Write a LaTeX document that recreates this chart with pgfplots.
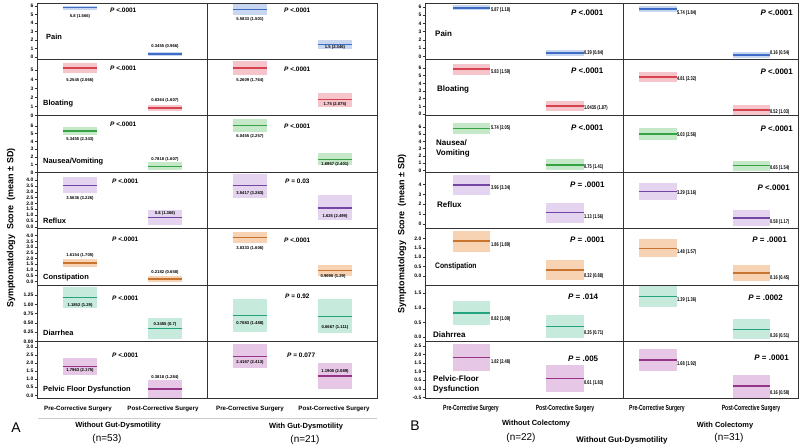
\documentclass[border=0pt]{standalone}
\usepackage{pgfplots}
\pgfplotsset{compat=1.18}
\usepackage{graphicx}
\usepackage{fontspec}
\setmainfont{Liberation Sans}

\definecolor{cPainL}{HTML}{3F6CC4}\definecolor{cPainB}{HTML}{C9D6F0}
\definecolor{cBloatL}{HTML}{D6434F}\definecolor{cBloatB}{HTML}{F6C5CC}
\definecolor{cNauL}{HTML}{34A344}\definecolor{cNauB}{HTML}{C4E8C8}
\definecolor{cRefL}{HTML}{7346A3}\definecolor{cRefB}{HTML}{E4D4EF}
\definecolor{cConL}{HTML}{C77431}\definecolor{cConB}{HTML}{F7D3B4}
\definecolor{cDiaL}{HTML}{25A37E}\definecolor{cDiaB}{HTML}{C6EBDD}
\definecolor{cPelL}{HTML}{963488}\definecolor{cPelB}{HTML}{E6C7E5}

\newcommand{\cell}[6]{%
  \addplot[draw=none, fill=#6B] coordinates {(#1,#3) (#2,#3) (#2,#5) (#1,#5)};
  \addplot[draw=#6L, line width=1.4bp] coordinates {(#1,#4) (#2,#4)};
}
\newcommand{\T}[4]{\node[inner sep=0pt,#1] at ({#2bp},{448bp-#3bp}) {#4};}
\newcommand{\tk}{\fontsize{5}{5}\selectfont\bfseries}
\newcommand{\va}{\fontsize{4.2}{4.2}\selectfont\bfseries}
\newcommand{\vb}[1]{\scalebox{0.72}[1]{\fontsize{5.5}{5.5}\selectfont\bfseries #1}}
\newcommand{\labA}{\fontsize{7.5}{8}\selectfont\bfseries}
\newcommand{\labB}{\fontsize{8}{10}\selectfont\bfseries}
\newcommand{\pA}{\fontsize{6.5}{7}\selectfont\bfseries}
\newcommand{\pB}{\fontsize{8}{9}\selectfont\bfseries}
\newcommand{\PP}{\textit{P}}

\pgfplotsset{
  rowbase/.style={scale only axis, height=56.43bp, anchor=north west,
    xmin=0, xmax=4, xtick=\empty, ytick pos=left, tick align=outside,
    major tick length=2.5bp,
    axis line style={black!80, line width=0.8pt},
    every tick/.style={black!80, line width=0.5pt},
    tick label style={font=\tk},
    yticklabel style={/pgf/number format/assume math mode=true, inner sep=1bp},
    extra x ticks={#1}, extra x tick labels={},
    extra x tick style={grid=major, major grid style={black!80, line width=0.8pt}, major tick length=0pt}},
  rowA/.style={rowbase=2, width=340bp},
  rowB/.style={rowbase=2.13, width=373bp},
  p1/.style={yticklabel style={/pgf/number format/fixed, /pgf/number format/fixed zerofill, /pgf/number format/precision=1}},
  p2/.style={yticklabel style={/pgf/number format/fixed, /pgf/number format/fixed zerofill, /pgf/number format/precision=2}},
}

\begin{document}
\begin{tikzpicture}
\useasboundingbox (0,0) rectangle (800bp,448bp);

% ================= Panel A =================
\begin{axis}[rowA, at={(37bp,{448bp-3bp})}, ymin=-0.27, ymax=6.35, ytick={0,...,6}]
\cell{0.3}{0.7}{5.55}{5.8}{6.05}{cPain}
\cell{1.3}{1.7}{0.10}{0.3455}{0.59}{cPain}
\cell{2.3}{2.7}{4.98}{5.5833}{6.18}{cPain}
\cell{3.3}{3.7}{1.0}{1.5}{2.0}{cPain}
\end{axis}
\begin{axis}[rowA, at={(37bp,{448bp-59.4bp})}, ymin=-0.03, ymax=6.2, ytick={0,...,5}]
\cell{0.3}{0.7}{4.75}{5.2545}{5.75}{cBloat}
\cell{1.3}{1.7}{0.47}{0.8364}{1.2}{cBloat}
\cell{2.3}{2.7}{4.46}{5.2609}{6.06}{cBloat}
\cell{3.3}{3.7}{0.98}{1.75}{2.52}{cBloat}
\end{axis}
\begin{axis}[rowA, at={(37bp,{448bp-115.9bp})}, ymin=0, ymax=7.3, ytick={0,...,6}]
\cell{0.3}{0.7}{4.88}{5.3455}{5.82}{cNau}
\cell{1.3}{1.7}{0.25}{0.7818}{1.31}{cNau}
\cell{2.3}{2.7}{5.2}{6.0455}{6.9}{cNau}
\cell{3.3}{3.7}{0.95}{1.6957}{2.45}{cNau}
\end{axis}
\begin{axis}[rowA, p1, at={(37bp,{448bp-172.3bp})}, ymin=-0.17, ymax=4.68, ytick={0,0.5,...,4}]
\cell{0.3}{0.7}{2.88}{3.5636}{4.24}{cRef}
\cell{1.3}{1.7}{0.12}{0.8}{1.48}{cRef}
\cell{2.3}{2.7}{2.51}{3.5417}{4.57}{cRef}
\cell{3.3}{3.7}{0.57}{1.625}{2.69}{cRef}
\end{axis}
\begin{axis}[rowA, p1, at={(37bp,{448bp-228.7bp})}, ymin=-0.32, ymax=4.6, ytick={0,0.5,...,4}]
\cell{0.3}{0.7}{1.3}{1.6154}{1.93}{cCon}
\cell{1.3}{1.7}{-0.01}{0.2182}{0.45}{cCon}
\cell{2.3}{2.7}{3.37}{3.8333}{4.29}{cCon}
\cell{3.3}{3.7}{0.47}{0.9696}{1.47}{cCon}
\end{axis}
\begin{axis}[rowA, p2, at={(37bp,{448bp-285.1bp})}, ymin=0, ymax=1.52, ytick={0,0.25,...,1.25}]
\cell{0.3}{0.7}{0.9}{1.1852}{1.47}{cDia}
\cell{1.3}{1.7}{0.06}{0.3455}{0.63}{cDia}
\cell{2.3}{2.7}{0.25}{0.7083}{1.14}{cDia}
\cell{3.3}{3.7}{0.23}{0.6667}{1.14}{cDia}
\end{axis}
\begin{axis}[rowA, p1, at={(37bp,{448bp-341.6bp})}, ymin=-0.17, ymax=3.33, ytick={0,0.5,...,3}]
\cell{0.3}{0.7}{1.28}{1.7963}{2.32}{cPel}
\cell{1.3}{1.7}{-0.16}{0.3818}{0.92}{cPel}
\cell{2.3}{2.7}{1.67}{2.4167}{3.17}{cPel}
\cell{3.3}{3.7}{0.39}{1.1905}{1.99}{cPel}
\end{axis}

% ================= Panel B =================
\begin{axis}[rowB, at={(425bp,{448bp-3bp})}, ymin=-0.37, ymax=6.46, ytick={0,...,6}]
\cell{0.3}{0.7}{5.56}{5.87}{6.18}{cPain}
\cell{1.3}{1.7}{0.04}{0.39}{0.74}{cPain}
\cell{2.3}{2.7}{5.37}{5.74}{6.11}{cPain}
\cell{3.3}{3.7}{-0.19}{0.16}{0.51}{cPain}
\end{axis}
\begin{axis}[rowB, at={(425bp,{448bp-59.4bp})}, ymin=-0.22, ymax=7.1, ytick={0,...,6}]
\cell{0.3}{0.7}{5.1}{5.83}{6.56}{cBloat}
\cell{1.3}{1.7}{0.35}{1.0435}{1.73}{cBloat}
\cell{2.3}{2.7}{4.19}{4.81}{5.43}{cBloat}
\cell{3.3}{3.7}{-0.08}{0.52}{1.12}{cBloat}
\end{axis}
\begin{axis}[rowB, at={(425bp,{448bp-115.9bp})}, ymin=-0.27, ymax=7.5, ytick={0,...,6}]
\cell{0.3}{0.7}{4.97}{5.74}{6.51}{cNau}
\cell{1.3}{1.7}{0.0}{0.75}{1.5}{cNau}
\cell{2.3}{2.7}{4.23}{5.03}{5.83}{cNau}
\cell{3.3}{3.7}{-0.03}{0.65}{1.33}{cNau}
\end{axis}
\begin{axis}[rowB, at={(425bp,{448bp-172.3bp})}, ymin=-0.5, ymax=5.24, ytick={0,...,4}]
\cell{0.3}{0.7}{2.98}{3.96}{4.94}{cRef}
\cell{1.3}{1.7}{0.13}{1.13}{2.13}{cRef}
\cell{2.3}{2.7}{2.45}{3.29}{4.13}{cRef}
\cell{3.3}{3.7}{-0.26}{0.58}{1.42}{cRef}
\end{axis}
\begin{axis}[rowB, p1, at={(425bp,{448bp-228.7bp})}, ymin=-0.5, ymax=2.53, ytick={0,0.5,...,2}]
\cell{0.3}{0.7}{1.3}{1.86}{2.42}{cCon}
\cell{1.3}{1.7}{-0.21}{0.32}{0.85}{cCon}
\cell{2.3}{2.7}{0.99}{1.48}{1.97}{cCon}
\cell{3.3}{3.7}{-0.28}{0.16}{0.6}{cCon}
\end{axis}
\begin{axis}[rowB, p1, at={(425bp,{448bp-285.1bp})}, ymin=-0.16, ymax=1.78, ytick={0,0.5,...,1.5}]
\cell{0.3}{0.7}{0.41}{0.82}{1.23}{cDia}
\cell{1.3}{1.7}{-0.05}{0.35}{0.75}{cDia}
\cell{2.3}{2.7}{1.04}{1.39}{1.74}{cDia}
\cell{3.3}{3.7}{-0.08}{0.26}{0.6}{cDia}
\end{axis}
\begin{axis}[rowB, p1, at={(425bp,{448bp-341.6bp})}, ymin=-0.54, ymax=2.76, ytick={-0.5,0,0.5,1,1.5,2,2.5}]
\cell{0.3}{0.7}{1.02}{1.82}{2.62}{cPel}
\cell{1.3}{1.7}{-0.17}{0.61}{1.39}{cPel}
\cell{2.3}{2.7}{1.03}{1.68}{2.33}{cPel}
\cell{3.3}{3.7}{-0.51}{0.16}{0.83}{cPel}
\end{axis}

% ---------- Panel A texts ----------
\T{rotate=90,font=\fontsize{9}{9}\selectfont\bfseries}{11}{228}{Symptomatology\ \ Score\ \ (mean ± SD)}
\T{anchor=west,font=\labA}{46}{37.3}{Pain}
\T{anchor=west,font=\labA}{43}{104}{Bloating}
\T{anchor=west,font=\labA}{43}{161.7}{Nausea/Vomiting}
\T{anchor=west,font=\labA}{43}{221}{Reflux}
\T{anchor=west,font=\labA}{43}{277.7}{Constipation}
\T{anchor=west,font=\labA}{43}{332.7}{Diarrhea}
\T{anchor=west,font=\labA}{43}{390}{Pelvic Floor Dysfunction}

\T{anchor=west,font=\pA}{110}{10}{\PP\ <.0001}
\T{anchor=west,font=\pA}{110}{68}{\PP\ <.0001}
\T{anchor=west,font=\pA}{110}{124}{\PP\ <.0001}
\T{anchor=west,font=\pA}{112}{181}{\PP\ <.0001}
\T{anchor=west,font=\pA}{112}{239}{\PP\ <.0001}
\T{anchor=west,font=\pA}{112}{298}{\PP\ <.0001}
\T{anchor=west,font=\pA}{112}{355}{\PP\ <.0001}
\T{anchor=west,font=\pA}{284}{10}{\PP\ <.0001}
\T{anchor=west,font=\pA}{284}{69}{\PP\ <.0001}
\T{anchor=west,font=\pA}{284}{126}{\PP\ <.0001}
\T{anchor=west,font=\pA}{285}{181}{\PP\ = 0.03}
\T{anchor=west,font=\pA}{284}{240}{\PP\ <.0001}
\T{anchor=west,font=\pA}{285}{296}{\PP\ = 0.92}
\T{anchor=west,font=\pA}{287}{355}{\PP\ = 0.077}

\T{font=\va}{80}{16.7}{5.8 (1.566)}
\T{font=\va}{165}{46.7}{0.3455 (0.966)}
\T{font=\va}{80}{80}{5.2545 (2.066)}
\T{font=\va}{165}{100.7}{0.8364 (1.607)}
\T{font=\va}{80}{139.3}{5.3455 (2.343)}
\T{font=\va}{165}{159}{0.7818 (1.607)}
\T{font=\va}{80}{198.3}{3.5636 (3.226)}
\T{font=\va}{165}{213.3}{0.8 (1.366)}
\T{font=\va}{80}{255}{1.6154 (1.705)}
\T{font=\va}{165}{272.7}{0.2182 (0.658)}
\T{font=\va}{80}{305.7}{1.1852 (1.29)}
\T{font=\va}{165}{324}{0.3455 (0.7)}
\T{font=\va}{80}{370.3}{1.7963 (2.175)}
\T{font=\va}{165}{377.3}{0.3818 (1.284)}
\T{font=\va}{250}{19}{5.5833 (1.501)}
\T{font=\va}{335}{47.7}{1.5 (2.346)}
\T{font=\va}{250}{80}{5.2609 (1.764)}
\T{font=\va}{335}{104.3}{1.75 (2.075)}
\T{font=\va}{250}{136}{6.0455 (2.257)}
\T{font=\va}{335}{164.7}{1.6957 (2.401)}
\T{font=\va}{250}{193.3}{3.5417 (3.283)}
\T{font=\va}{335}{216.7}{1.625 (2.499)}
\T{font=\va}{250}{248.7}{3.8333 (1.606)}
\T{font=\va}{333}{276.7}{0.9696 (1.29)}
\T{font=\va}{250}{323.3}{0.7083 (1.488)}
\T{font=\va}{335}{327.3}{0.6667 (1.111)}
\T{font=\va}{250}{362.7}{2.4167 (2.413)}
\T{font=\va}{335}{371}{1.1905 (2.089)}

\T{font=\fontsize{6.2}{7}\selectfont\bfseries}{78}{409}{Pre-Corrective Surgery}
\T{font=\fontsize{6.2}{7}\selectfont\bfseries}{163}{409}{Post-Corrective Surgery}
\T{font=\fontsize{6.2}{7}\selectfont\bfseries}{250}{409}{Pre-Corrective Surgery}
\T{font=\fontsize{6.2}{7}\selectfont\bfseries}{334}{409}{Post-Corrective Surgery}
\draw[black!20, line width=0.4pt] (38bp,{448bp-418bp}) -- (377bp,{448bp-418bp});
\T{font=\fontsize{14}{14}\selectfont}{16}{428}{A}
\T{font=\fontsize{7.5}{8}\selectfont\bfseries}{118}{426}{Without Gut-Dysmotility}
\T{font=\fontsize{10}{10}\selectfont}{107}{438.5}{(n=53)}
\T{font=\fontsize{7.5}{8}\selectfont\bfseries}{306}{427}{With Gut-Dysmotility}
\T{font=\fontsize{10}{10}\selectfont}{305}{439.5}{(n=21)}

% ---------- Panel B texts ----------
\T{rotate=90,font=\fontsize{9}{9}\selectfont\bfseries}{402}{234}{Symptomatology\ \ Score\ \ (mean ± SD)}
\T{anchor=west,font=\labB}{435}{33.3}{Pain}
\T{anchor=west,font=\labB}{437}{89}{Bloating}
\T{anchor=west,font=\labB,align=left}{436}{148}{Nausea/\\Vomiting}
\T{anchor=west,font=\labB}{437}{205}{Reflux}
\T{anchor=west,font=\labB}{435}{266.7}{\scalebox{0.85}[1]{Constipation}}
\T{anchor=west,font=\labB}{433}{334.3}{Diahrrea}
\T{anchor=west,font=\labB,align=left}{433}{384.3}{Pelvic-Floor\\Dysfunction}

\T{anchor=west,font=\pB}{571}{12.3}{\PP\ <.0001}
\T{anchor=west,font=\pB}{571}{71}{\PP\ <.0001}
\T{anchor=west,font=\pB}{571}{127.7}{\PP\ <.0001}
\T{anchor=west,font=\pB}{570}{185}{\PP\ = .0001}
\T{anchor=west,font=\pB}{570}{239.3}{\PP\ = .0001}
\T{anchor=west,font=\pB}{568}{296.7}{\PP\ = .014}
\T{anchor=west,font=\pB}{568}{359}{\PP\ = .005}
\T{anchor=east,font=\pB}{793}{12.3}{\PP\ <.0001}
\T{anchor=east,font=\pB}{793}{71.7}{\PP\ <.0001}
\T{anchor=east,font=\pB}{793}{128.3}{\PP\ <.0001}
\T{anchor=east,font=\pB}{790}{187.3}{\PP\ <.0001}
\T{anchor=east,font=\pB}{787}{239.3}{\PP\ = .0001}
\T{anchor=east,font=\pB}{783}{297.3}{\PP\ = .0002}
\T{anchor=east,font=\pB}{789}{357.7}{\PP\ = .0001}

\T{anchor=west}{491}{10}{\vb{5.87 (1.18)}}
\T{anchor=west}{584}{52.7}{\vb{0.39 (0.84)}}
\T{anchor=west}{677}{13.3}{\vb{5.74 (1.84)}}
\T{anchor=west}{770}{53.3}{\vb{0.16 (0.54)}}
\T{anchor=west}{491}{71.7}{\vb{5.83 (1.59)}}
\T{anchor=west}{584}{108.3}{\vb{1.0435 (1.87)}}
\T{anchor=west}{677}{79.3}{\vb{4.81 (2.32)}}
\T{anchor=west}{770}{111.7}{\vb{0.52 (1.03)}}
\T{anchor=west}{491}{128.3}{\vb{5.74 (2.05)}}
\T{anchor=west}{584}{166.7}{\vb{0.75 (1.41)}}
\T{anchor=west}{677}{135}{\vb{5.03 (2.56)}}
\T{anchor=west}{770}{168.3}{\vb{0.65 (1.54)}}
\T{anchor=west}{491}{187.7}{\vb{3.96 (3.34)}}
\T{anchor=west}{584}{216.7}{\vb{1.13 (1.56)}}
\T{anchor=west}{677}{193.3}{\vb{3.29 (3.16)}}
\T{anchor=west}{770}{221.7}{\vb{0.58 (1.17)}}
\T{anchor=west}{491}{245}{\vb{1.86 (1.89)}}
\T{anchor=west}{584}{276}{\vb{0.32 (0.88)}}
\T{anchor=west}{677}{252.3}{\vb{1.48 (1.57)}}
\T{anchor=west}{770}{278.3}{\vb{0.16 (0.45)}}
\T{anchor=west}{491}{319.3}{\vb{0.82 (1.09)}}
\T{anchor=west}{584}{333.3}{\vb{0.35 (0.71)}}
\T{anchor=west}{677}{300}{\vb{1.39 (1.36)}}
\T{anchor=west}{770}{336}{\vb{0.26 (0.51)}}
\T{anchor=west}{491}{361.7}{\vb{1.82 (2.48)}}
\T{anchor=west}{584}{383.3}{\vb{0.61 (1.83)}}
\T{anchor=west}{677}{364}{\vb{1.68 (1.92)}}
\T{anchor=west}{770}{392.7}{\vb{0.16 (0.58)}}

\T{}{471}{409}{\scalebox{0.68}[1]{\fontsize{7.5}{8}\selectfont\bfseries Pre-Corrective Surgery}}
\T{}{565}{409}{\scalebox{0.68}[1]{\fontsize{7.5}{8}\selectfont\bfseries Post-Corrective Surgery}}
\T{}{657}{409}{\scalebox{0.68}[1]{\fontsize{7.5}{8}\selectfont\bfseries Pre-Corrective Surgery}}
\T{}{751}{409}{\scalebox{0.68}[1]{\fontsize{7.5}{8}\selectfont\bfseries Post-Corrective Surgery}}
\T{font=\fontsize{14}{14}\selectfont}{415}{426}{B}
\T{font=\fontsize{7.5}{8}\selectfont\bfseries}{536}{424}{Without Colectomy}
\T{font=\fontsize{10}{10}\selectfont}{521}{437.5}{(n=22)}
\T{font=\fontsize{8}{9}\selectfont\bfseries}{622}{440.5}{Without Gut-Dysmotility}
\T{font=\fontsize{7.5}{8}\selectfont\bfseries}{725}{426}{With Colectomy}
\T{font=\fontsize{10}{10}\selectfont}{729}{437.5}{(n=31)}
\end{tikzpicture}
\end{document}
